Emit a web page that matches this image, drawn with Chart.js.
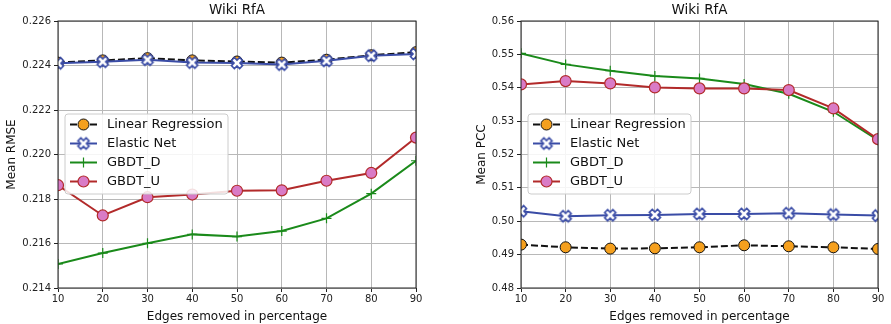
<!DOCTYPE html>
<html>
<head>
<meta charset="utf-8">
<script src="https://cdn.jsdelivr.net/npm/chart.js@4"></script>
<style>
  body { margin: 0; background: white; }
  #wrap { position: relative; width: 891px; height: 324px; }
  canvas { position: absolute; top: 0; }
</style>
</head>
<body>
<div id="wrap">
  <canvas id="rmse" width="445" height="324" style="left:0"></canvas>
  <canvas id="pcc" width="446" height="324" style="left:445px"></canvas>
</div>
<script>
const edgesRemoved = [10, 20, 30, 40, 50, 60, 70, 80, 90];
const seriesNames = ['Linear Regression', 'Elastic Net', 'GBDT_D', 'GBDT_U'];

const rmseLinear  = [0.22413, 0.22423, 0.22433, 0.22423, 0.22418, 0.22413, 0.22426, 0.22446, 0.22460];
const rmseElastic = [0.22410, 0.22417, 0.22426, 0.22413, 0.22411, 0.22404, 0.22421, 0.22444, 0.22452];
const rmseGbdtD   = [0.21508, 0.21557, 0.21601, 0.21641, 0.21631, 0.21656, 0.21713, 0.21824, 0.21972];
const rmseGbdtU   = [0.21862, 0.21726, 0.21808, 0.21820, 0.21837, 0.21839, 0.21882, 0.21917, 0.22076];

const pccLinear  = [0.4930, 0.4922, 0.4918, 0.4919, 0.4922, 0.4928, 0.4925, 0.4922, 0.4917];
const pccElastic = [0.5030, 0.5015, 0.5018, 0.5019, 0.5022, 0.5022, 0.5024, 0.5020, 0.5017];
const pccGbdtD   = [0.5503, 0.5470, 0.5451, 0.5435, 0.5428, 0.5411, 0.5382, 0.5328, 0.5243];
const pccGbdtU   = [0.5410, 0.5420, 0.5413, 0.5401, 0.5398, 0.5398, 0.5393, 0.5338, 0.5246];

const FONT = "'DejaVu Sans', sans-serif";
const ORANGE = '#f5a01e';
const BLUE = '#3a4ca6';
const GREEN = '#1a8a1a';
const RED = '#b22a2a';
const PINK = '#d97bc6';

// filled "X" marker like matplotlib's 'X'
function makeXMarker() {
  const c = document.createElement('canvas');
  c.width = 16; c.height = 16;
  const g = c.getContext('2d');
  const w = 2.1, r = 5.8;
  const pts = [[-w,-r],[w,-r],[w,-w],[r,-w],[r,w],[w,w],[w,r],[-w,r],[-w,w],[-r,w],[-r,-w],[-w,-w]];
  const a = Math.PI / 4;
  g.beginPath();
  pts.forEach((p, i) => {
    const x = 8 + p[0] * Math.cos(a) - p[1] * Math.sin(a);
    const y = 8 + p[0] * Math.sin(a) + p[1] * Math.cos(a);
    if (i === 0) g.moveTo(x, y); else g.lineTo(x, y);
  });
  g.closePath();
  g.fillStyle = 'white';
  g.fill();
  g.lineWidth = 1.6;
  g.strokeStyle = BLUE;
  g.stroke();
  return c;
}
const xMarker = makeXMarker();

function makeDatasets(lin, ela, gd, gu) {
  return [
    { label: seriesNames[0], data: lin, borderColor: '#111', borderWidth: 2, borderDash: [7, 3], clip: 0,
      pointStyle: 'circle', pointRadius: 5.5, pointBackgroundColor: ORANGE, pointBorderColor: '#111', pointBorderWidth: 1, order: 4 },
    { label: seriesNames[1], data: ela, borderColor: BLUE, borderWidth: 2, clip: 0,
      pointStyle: xMarker, pointRadius: 6, order: 3 },
    { label: seriesNames[2], data: gd, borderColor: GREEN, borderWidth: 2, clip: 0,
      pointStyle: 'cross', pointRadius: 5, pointBorderColor: GREEN, pointBorderWidth: 1.2, order: 2 },
    { label: seriesNames[3], data: gu, borderColor: RED, borderWidth: 2, clip: 0,
      pointStyle: 'circle', pointRadius: 5.5, pointBackgroundColor: PINK, pointBorderColor: RED, pointBorderWidth: 1.2, order: 1 }
  ];
}

const framePlugin = {
  id: 'frame',
  afterDatasetsDraw(chart) {
    const { ctx, chartArea: a } = chart;
    ctx.save();
    ctx.strokeStyle = '#222';
    ctx.lineWidth = 1;
    ctx.strokeRect(a.left, a.top, a.right - a.left, a.bottom - a.top);
    ctx.restore();
  }
};

const titlePlugin = {
  id: 'topTitle',
  afterDraw(chart) {
    const { ctx, chartArea: a } = chart;
    ctx.save();
    ctx.font = '13.5px ' + FONT;
    ctx.fillStyle = '#111';
    ctx.textAlign = 'center';
    ctx.textBaseline = 'middle';
    ctx.fillText(chart.options.plugins.topTitle.text, (a.left + a.right) / 2, 10);
    ctx.restore();
  }
};

const legendPlugin = {
  id: 'boxLegend',
  afterDraw(chart) {
    const { ctx, chartArea: a } = chart;
    const x0 = a.left + 7, y0 = 114, w = 163, h = 80;
    ctx.save();
    ctx.beginPath();
    ctx.roundRect(x0, y0, w, h, 3);
    ctx.fillStyle = 'rgba(255,255,255,0.85)';
    ctx.fill();
    ctx.strokeStyle = '#cccccc';
    ctx.lineWidth = 1;
    ctx.stroke();
    chart.data.datasets.forEach((ds, i) => {
      const y = 124.5 + i * 19;
      ctx.save();
      ctx.strokeStyle = ds.borderColor;
      ctx.lineWidth = ds.borderWidth;
      ctx.setLineDash(ds.borderDash || []);
      ctx.beginPath();
      ctx.moveTo(x0 + 5, y);
      ctx.lineTo(x0 + 32, y);
      ctx.stroke();
      ctx.restore();
      const mx = x0 + 18.5;
      if (ds.pointStyle === 'circle') {
        ctx.beginPath();
        ctx.arc(mx, y, ds.pointRadius, 0, Math.PI * 2);
        ctx.fillStyle = ds.pointBackgroundColor;
        ctx.fill();
        ctx.lineWidth = ds.pointBorderWidth;
        ctx.strokeStyle = ds.pointBorderColor;
        ctx.stroke();
      } else if (ds.pointStyle === 'cross') {
        ctx.beginPath();
        ctx.moveTo(mx, y - ds.pointRadius); ctx.lineTo(mx, y + ds.pointRadius);
        ctx.moveTo(mx - ds.pointRadius, y); ctx.lineTo(mx + ds.pointRadius, y);
        ctx.lineWidth = ds.pointBorderWidth;
        ctx.strokeStyle = ds.pointBorderColor;
        ctx.stroke();
      } else {
        ctx.drawImage(ds.pointStyle, mx - 8, y - 8);
      }
      ctx.font = '13px ' + FONT;
      ctx.fillStyle = '#111';
      ctx.textAlign = 'left';
      ctx.textBaseline = 'middle';
      ctx.fillText(ds.label, x0 + 42, y);
    });
    ctx.restore();
  }
};

function makeChart(id, datasets, yTitle, yMin, yMax, yStep, decimals, yWidth, pad) {
  return new Chart(document.getElementById(id), {
    type: 'line',
    data: { labels: edgesRemoved, datasets: datasets },
    options: {
      responsive: false,
      animation: false,
      layout: { padding: pad },
      elements: { line: { tension: 0 } },
      plugins: {
        legend: { display: false },
        tooltip: { enabled: false },
        topTitle: { text: 'Wiki RfA' }
      },
      scales: {
        x: {
          type: 'category',
          offset: false,
          grid: { color: '#b8b8b8', tickColor: '#222', tickLength: 4 },
          border: { display: false },
          ticks: { color: '#222', font: { family: FONT, size: 10 }, padding: 1, maxRotation: 0 },
          title: { display: true, text: 'Edges removed in percentage', color: '#111',
                   font: { family: FONT, size: 12 }, padding: { top: 3, bottom: 0 } },
          afterFit(scale) { scale.height = 36; }
        },
        y: {
          min: yMin, max: yMax,
          grid: { color: '#b8b8b8', tickColor: '#222', tickLength: 4 },
          border: { display: false },
          ticks: { stepSize: yStep, color: '#222', font: { family: FONT, size: 10 }, padding: 3,
                   callback: v => v.toFixed(decimals) },
          title: { display: true, text: yTitle, color: '#111',
                   font: { family: FONT, size: 12 }, padding: { top: 5, bottom: 0 } },
          afterFit(scale) { scale.width = yWidth; }
        }
      }
    },
    plugins: [framePlugin, legendPlugin, titlePlugin]
  });
}

makeChart('rmse', makeDatasets(rmseLinear, rmseElastic, rmseGbdtD, rmseGbdtU),
  'Mean RMSE', 0.214, 0.226, 0.002, 3, 58, { left: 0, right: 29, top: 21, bottom: 0 });
makeChart('pcc', makeDatasets(pccLinear, pccElastic, pccGbdtD, pccGbdtU),
  'Mean PCC', 0.48, 0.56, 0.01, 2, 51, { left: 25, right: 13, top: 21, bottom: 0 });
</script>
</body>
</html>
